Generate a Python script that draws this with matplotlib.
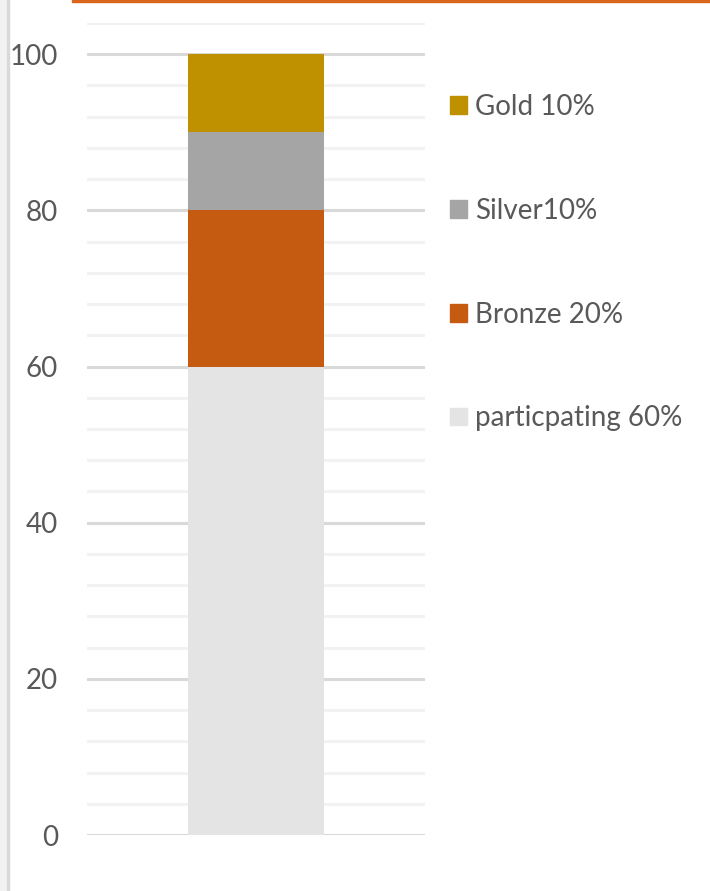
import matplotlib.pyplot as plt
from matplotlib.patches import Rectangle, Patch
from matplotlib.ticker import MultipleLocator

plt.rcParams['font.family'] = ['Lato', 'DejaVu Sans']

# データ（下から積み上げ）
labels = ['particpating 60%', 'Bronze 20%', 'Silver10%', 'Gold 10%']
values = [60, 20, 10, 10]
colors = ['#E4E4E4', '#C55A11', '#A5A5A5', '#BF9000']
yticks = [0, 20, 40, 60, 80, 100]

fig = plt.figure(figsize=(7.1, 8.91), dpi=100)
ax = fig.add_axes([87/710, 56/891, 338/710, 812/891])

bottom = 0
for v, c in zip(values, colors):
    ax.bar(0, v, width=0.4, bottom=bottom, color=c, zorder=3)
    bottom += v

ax.set_xlim(-0.5, 0.5)
ax.set_ylim(0, 104)
ax.set_yticks(yticks)
ax.yaxis.set_minor_locator(MultipleLocator(4))
ax.grid(axis='y', which='major', color='#D9D9D9', linewidth=2.2, zorder=0)
ax.grid(axis='y', which='minor', color='#F2F2F2', linewidth=2.2, zorder=0)
ax.set_xticks([])
ax.tick_params(axis='y', which='both', length=0, pad=21, labelsize=20, labelcolor='#595959')
for s in ax.spines.values():
    s.set_visible(False)

# 凡例（上からGold→participating）
handles = [Patch(color=c, label=l) for l, c in zip(labels, colors)][::-1]
leg = fig.legend(handles=handles, loc='upper left', bbox_to_anchor=(425/710, 1 - 69/891),
                 frameon=False, fontsize=20, labelcolor='#595959',
                 handlelength=0.6, handleheight=0.6, handletextpad=0.3, labelspacing=2.8)

# 左端とトップの飾り線
fig.patches.append(Rectangle((0, 0), 7/710, 1, transform=fig.transFigure, color='#F2F2F3', zorder=0))
fig.patches.append(Rectangle((7/710, 0), 2/710, 1, transform=fig.transFigure, color='#D9D9D9', zorder=0))
fig.patches.append(Rectangle((72/710, 1 - 2/891), 1, 2/891, transform=fig.transFigure, color='#D9641B', zorder=0))

fig.savefig('out.png', dpi=100)
